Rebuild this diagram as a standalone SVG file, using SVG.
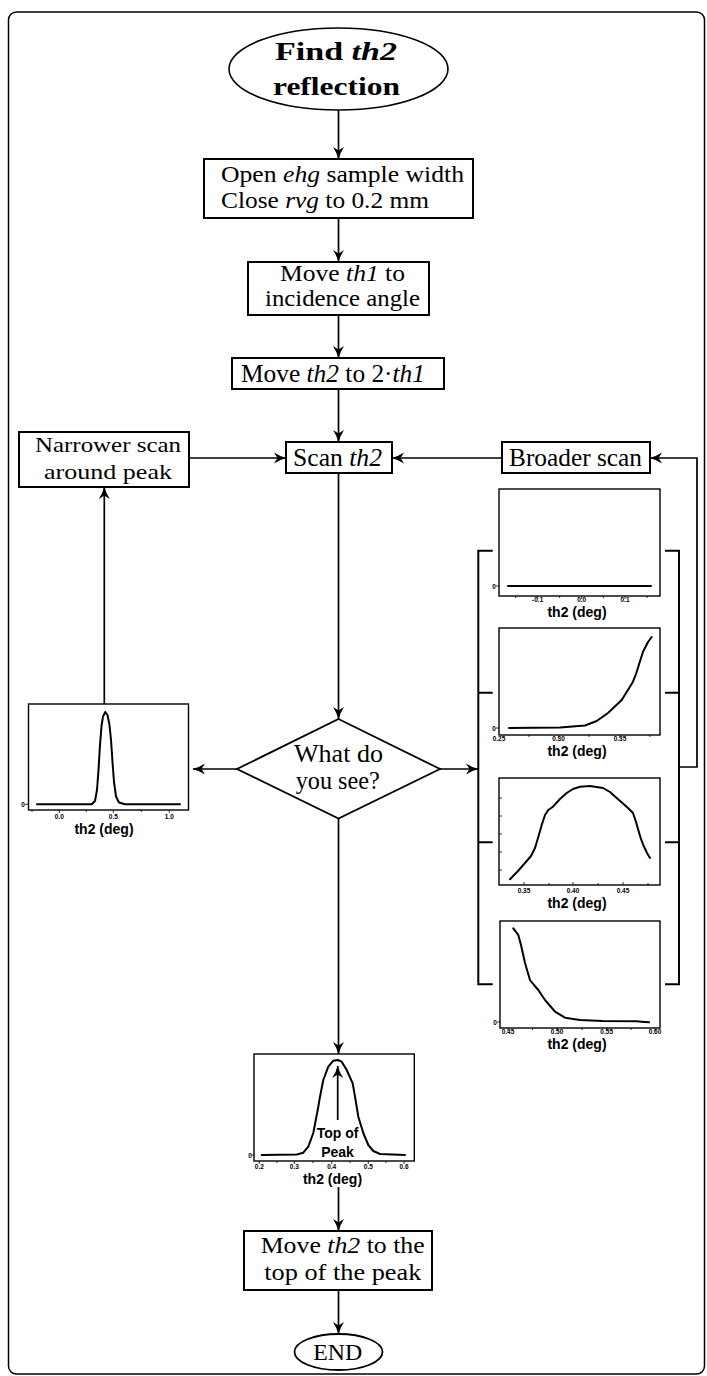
<svg xmlns="http://www.w3.org/2000/svg" width="707" height="1376" viewBox="0 0 707 1376">
<style>
.box{fill:#fff;stroke:#000;stroke-width:2}
.conn{fill:none;stroke:#000;stroke-width:1.7}
.t{font-family:"Liberation Serif","Times New Roman",serif;fill:#000}
.it{font-style:italic}
.plot{fill:#fff;stroke:#000;stroke-width:1.4}
.curve{fill:none;stroke:#000;stroke-width:2;stroke-linejoin:round;stroke-linecap:round}
.tick{fill:none;stroke:#000;stroke-width:0.8}
.brk{fill:none;stroke:#000;stroke-width:2}
.tl{font-family:"Liberation Sans",Arial,sans-serif;font-weight:bold;font-size:6.5px;text-anchor:middle;fill:#000}
.ax{font-family:"Liberation Sans",Arial,sans-serif;font-weight:bold;font-size:14px;text-anchor:middle;fill:#000}
</style>
<defs>
<marker id="ah" viewBox="-13 -7 14 14" markerWidth="14" markerHeight="14" refX="0" refY="0" orient="auto" markerUnits="userSpaceOnUse">
<path d="M0.5,0 Q-6,-1.5 -12,-5.5 L-8.5,0 L-12,5.5 Q-6,1.5 0.5,0 Z" fill="#000"/>
</marker>
</defs>
<rect x="8.5" y="12" width="696" height="1362" rx="8" fill="#fff" stroke="#000" stroke-width="1.5"/>

<g id="connectors">
<path class="conn" d="M338.5,110 V159" marker-end="url(#ah)"/>
<path class="conn" d="M338.5,218 V262" marker-end="url(#ah)"/>
<path class="conn" d="M338.5,315 V358" marker-end="url(#ah)"/>
<path class="conn" d="M338.5,389 V442" marker-end="url(#ah)"/>
<path class="conn" d="M189,458 H286" marker-end="url(#ah)"/>
<path class="conn" d="M502,458 H392" marker-end="url(#ah)"/>
<path class="conn" d="M338.5,473 V719" marker-end="url(#ah)"/>
<path class="conn" d="M237,769 H193" marker-end="url(#ah)"/>
<path class="conn" d="M104.3,704 V487" marker-end="url(#ah)"/>
<path class="conn" d="M440,769 H478" marker-end="url(#ah)"/>
<path class="conn" d="M679,767 H697 V458 H650" marker-end="url(#ah)"/>
<path class="conn" d="M338.5,818.5 V1054" marker-end="url(#ah)"/>
<path class="conn" d="M338.5,1187 V1231" marker-end="url(#ah)"/>
<path class="conn" d="M338.5,1290 V1334" marker-end="url(#ah)"/>
</g>

<g id="start">
<ellipse cx="338.5" cy="69" rx="109.5" ry="41" fill="#fff" stroke="#000" stroke-width="1.6"/>
<text class="t" x="275" y="60" font-size="25" font-weight="bold" textLength="122" lengthAdjust="spacingAndGlyphs">Find <tspan class="it">th2</tspan></text>
<text class="t" x="273" y="95" font-size="25" font-weight="bold" textLength="127" lengthAdjust="spacingAndGlyphs">reflection</text>
</g>

<g id="open-slits">
<rect class="box" x="204" y="159" width="269" height="59"/>
<text class="t" x="221" y="181.5" font-size="22.5" textLength="243" lengthAdjust="spacingAndGlyphs">Open <tspan class="it">ehg</tspan> sample width</text>
<text class="t" x="221" y="208" font-size="22.5" textLength="208" lengthAdjust="spacingAndGlyphs">Close <tspan class="it">rvg</tspan> to 0.2 mm</text>
</g>

<g id="move-th1">
<rect class="box" x="248" y="262" width="181" height="53"/>
<text class="t" x="280" y="280.5" font-size="22.5" textLength="125" lengthAdjust="spacingAndGlyphs">Move <tspan class="it">th1</tspan> to</text>
<text class="t" x="265" y="306" font-size="22.5" textLength="155" lengthAdjust="spacingAndGlyphs">incidence angle</text>
</g>

<g id="move-th2">
<rect class="box" x="232" y="358" width="212" height="31"/>
<text class="t" x="241" y="382" font-size="26" textLength="184" lengthAdjust="spacingAndGlyphs">Move <tspan class="it">th2</tspan> to 2·<tspan class="it">th1</tspan></text>
</g>

<g id="scan">
<rect class="box" x="286" y="442" width="106" height="31"/>
<text class="t" x="293" y="466" font-size="26" textLength="89" lengthAdjust="spacingAndGlyphs">Scan <tspan class="it">th2</tspan></text>
</g>

<g id="narrower">
<rect class="box" x="19" y="432" width="170" height="55"/>
<text class="t" x="35" y="452.3" font-size="21.5" textLength="146" lengthAdjust="spacingAndGlyphs">Narrower scan</text>
<text class="t" x="44" y="479" font-size="21.5" textLength="128" lengthAdjust="spacingAndGlyphs">around peak</text>
</g>

<g id="broader">
<rect class="box" x="502" y="442" width="148" height="31"/>
<text class="t" x="509" y="466" font-size="26" textLength="133" lengthAdjust="spacingAndGlyphs">Broader scan</text>
</g>

<g id="decision">
<polygon points="338.5,719 440,769 338.5,818.5 237,769" fill="#fff" stroke="#000" stroke-width="1.8"/>
<text class="t" x="294" y="761.7" font-size="25" textLength="89" lengthAdjust="spacingAndGlyphs">What do</text>
<text class="t" x="295.7" y="789.3" font-size="25" textLength="84" lengthAdjust="spacingAndGlyphs">you see?</text>
</g>

<g id="plot-narrow-peak">
<rect class="plot" x="28.5" y="704" width="160" height="106"/>
<path class="tick" d="M25,804.3 H28.5 M59.3,810 v3 M113.3,810 v3 M169.3,810 v3 M32,810 v2 M86.3,810 v2 M141.3,810 v2"/>
<polyline class="curve" points="37,804.3 91.7,804.3 95,801 97,790 98.5,770 100,745 101.5,726 103,716.5 105.3,712 107.5,715 109.5,725 111,740 112.5,762 114,782 116,796.5 119,802.5 125,804.3 180,804.3"/>
<text class="tl" x="23" y="806.5">0</text>
<text class="tl" x="59.3" y="819">0.0</text>
<text class="tl" x="113.3" y="819">0.5</text>
<text class="tl" x="169.3" y="819">1.0</text>
<text class="ax" x="104" y="833.5">th2 (deg)</text>
</g>

<g id="plots-broader">
<path class="brk" d="M492.7,550.7 H478.3 V984.3 H492.7 M478.3,692.7 H492.7 M478.3,842.3 H492.7"/>
<path class="brk" d="M665,550.7 H679 V984.3 H665 M665,692.7 H679 M665,842.3 H679"/>

<rect class="plot" x="499" y="489" width="161" height="107"/>
<path class="tick" d="M496,586 H499 M537.7,596 v3 M581.7,596 v3 M625,596 v3 M515.7,596 v2 M559.7,596 v2 M603.3,596 v2 M647,596 v2"/>
<polyline class="curve" points="508,586 651,586"/>
<text class="tl" x="494" y="588.5">0</text>
<text class="tl" x="537.7" y="602">-0.1</text>
<text class="tl" x="581.7" y="602">0.0</text>
<text class="tl" x="625" y="602">0.1</text>
<text class="ax" x="577" y="616.5">th2 (deg)</text>

<rect class="plot" x="499" y="628" width="161" height="107"/>
<path class="tick" d="M496,728 H499 M558.5,735 v3 M620,735 v3 M529,735 v2 M589,735 v2 M650,735 v2"/>
<polyline class="curve" points="509,728 560,727.5 585,725.5 596.7,721 608,713 621.7,700 633,681.7 636,674 643,651.7 648,642 651.7,637"/>
<text class="tl" x="494" y="730.5">0</text>
<text class="tl" x="499" y="741">0.25</text>
<text class="tl" x="558.5" y="741">0.30</text>
<text class="tl" x="620" y="741">0.35</text>
<text class="ax" x="577" y="756">th2 (deg)</text>

<rect class="plot" x="499" y="778" width="161" height="107"/>
<path class="tick" d="M499,798 h3 M499,816 h3 M499,834 h3 M499,852 h3 M499,870 h3 M524,885 v-3 M549,885 v-2 M573,885 v-3 M598,885 v-2 M623,885 v-3 M648,885 v-2"/>
<polyline class="curve" points="510,879.3 518,871 525,863 531,856 535,848 538,838 541.7,825 545,815 548.3,810 553,806.7 560,799 566.7,793 573,789 580,786.7 590,786 603,788 610,792 616.7,798 626.7,806.7 633,813 636,822 638.3,830 641,839 643.3,845 647,853 650,858"/>
<text class="tl" x="524" y="892.5">0.35</text>
<text class="tl" x="573" y="892.5">0.40</text>
<text class="tl" x="623" y="892.5">0.45</text>
<text class="ax" x="577" y="907.5">th2 (deg)</text>

<rect class="plot" x="500" y="921" width="160" height="107"/>
<path class="tick" d="M497,1022 H500 M508,1028 v3 M557,1028 v3 M606.7,1028 v3 M655,1028 v3 M532.5,1028 v2 M582,1028 v2 M631,1028 v2"/>
<polyline class="curve" points="513.3,928.3 518.3,935 521,945 525,963 530,980 534,985 538.3,990 545,1000 555,1011.7 565,1017.7 580,1020 603,1021 636.7,1021.3 641.7,1021.7 649,1022.3"/>
<text class="tl" x="495" y="1024.5">0</text>
<text class="tl" x="508" y="1034">0.45</text>
<text class="tl" x="557" y="1034">0.50</text>
<text class="tl" x="606.7" y="1034">0.55</text>
<text class="tl" x="655" y="1034">0.60</text>
<text class="ax" x="577" y="1048.5">th2 (deg)</text>
</g>

<g id="plot-top-of-peak">
<rect class="plot" x="254" y="1054" width="160.3" height="107"/>
<path class="tick" d="M251,1155 H254 M259.3,1161 v3 M294.3,1161 v3 M331.7,1161 v3 M368.3,1161 v3 M404,1161 v3 M277,1161 v2 M313,1161 v2 M350,1161 v2 M386,1161 v2"/>
<polyline class="curve" points="261.7,1155 296.7,1154.5 303.3,1152.7 308.3,1146.7 313.3,1133 318.3,1106.7 320,1096.7 323.3,1080 328.3,1066.7 333.3,1060.7 337.7,1060 341.7,1061.7 346.7,1070 352.7,1083.3 355,1096.7 358.3,1116.7 363.3,1133 368.3,1145 373.3,1151 380,1154 405,1155"/>
<path class="conn" d="M337.7,1120 V1066" marker-end="url(#ah)"/>
<text class="ax" x="337.5" y="1138" font-size="14.5">Top of</text>
<text class="ax" x="337.5" y="1157" font-size="14.5">Peak</text>
<text class="tl" x="250" y="1157.5">0</text>
<text class="tl" x="259.3" y="1169">0.2</text>
<text class="tl" x="294.3" y="1169">0.3</text>
<text class="tl" x="331.7" y="1169">0.4</text>
<text class="tl" x="368.3" y="1169">0.5</text>
<text class="tl" x="404" y="1169">0.6</text>
<text class="ax" x="332.5" y="1183.5">th2 (deg)</text>
</g>

<g id="move-to-top">
<rect class="box" x="244" y="1231" width="188" height="59"/>
<text class="t" x="260.7" y="1252.7" font-size="22.5" textLength="164" lengthAdjust="spacingAndGlyphs">Move <tspan class="it">th2</tspan> to the</text>
<text class="t" x="264.3" y="1280" font-size="22.5" textLength="157" lengthAdjust="spacingAndGlyphs">top of the peak</text>
</g>

<g id="end">
<ellipse cx="338.5" cy="1352" rx="44" ry="18" fill="#fff" stroke="#000" stroke-width="1.8"/>
<text class="t" x="313.3" y="1360" font-size="22.5" textLength="49" lengthAdjust="spacingAndGlyphs">END</text>
</g>
</svg>
